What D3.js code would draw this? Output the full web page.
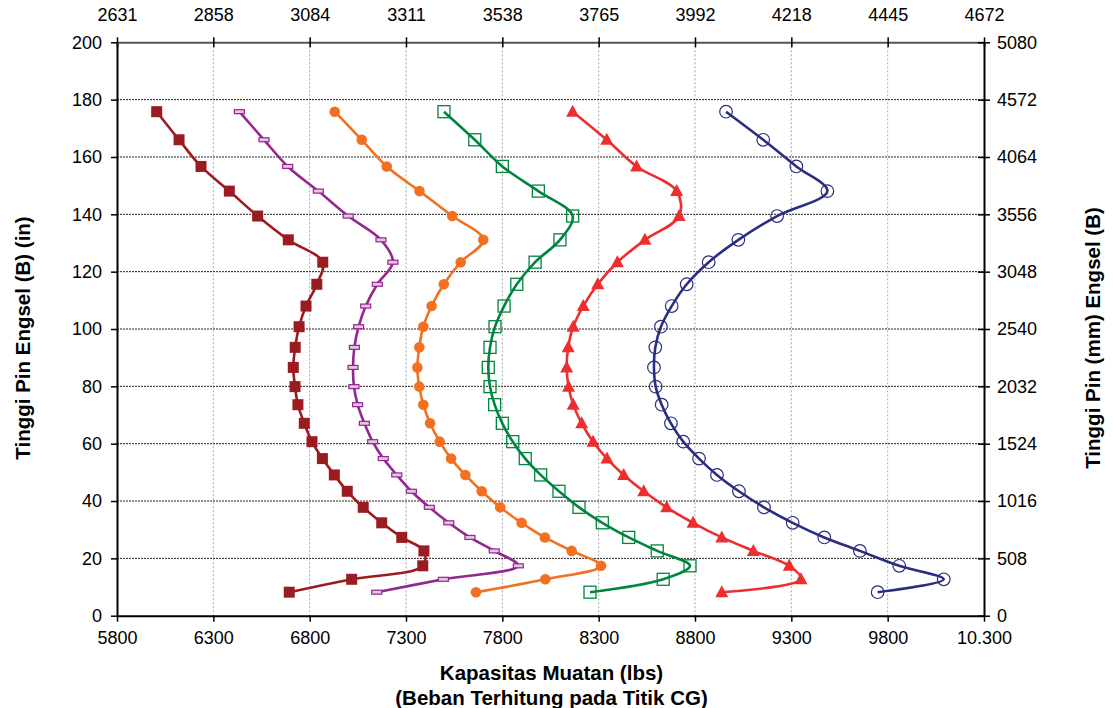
<!DOCTYPE html>
<html>
<head>
<meta charset="utf-8">
<script src="https://cdn.jsdelivr.net/npm/d3@7/dist/d3.min.js"></script>
<style>
  html, body { margin: 0; padding: 0; background: #fff; }
  svg { display: block; }
  text { font-family: "Liberation Sans", Arial, sans-serif; fill: #000; }
</style>
</head>
<body>
<svg id="chart" width="1113" height="708"></svg>
<script>
// Pin heights (in) shared by every curve
const heightsIn = [8.2, 12.7, 17.4, 22.6, 27.3, 32.4, 37.8, 43.4, 49.1, 54.8, 60.7, 67.1, 73.6, 79.9, 86.6, 93.6, 100.8, 108.0, 115.6, 123.3, 131.1, 139.4, 148.1, 156.7, 166.0, 175.8];

// Load capacity (lbs) at each pin height, one array per curve
const capDarkRed = [6694, 7018, 7387, 7393, 7278, 7174, 7078, 6995, 6928, 6866, 6812, 6772, 6739, 6724, 6715, 6725, 6745, 6781, 6837, 6868, 6689, 6530, 6383, 6236, 6122, 6006];
const capPurple  = [7148, 7494, 7883, 7758, 7632, 7522, 7421, 7328, 7252, 7182, 7127, 7084, 7049, 7030, 7025, 7032, 7054, 7091, 7151, 7232, 7170, 7000, 6845, 6686, 6563, 6435];
const capOrange  = [7663, 8023, 8312, 8160, 8021, 7900, 7789, 7693, 7608, 7534, 7475, 7425, 7390, 7369, 7359, 7369, 7390, 7433, 7496, 7584, 7701, 7540, 7370, 7200, 7070, 6930];
const capGreen   = [8255, 8635, 8774, 8604, 8456, 8319, 8198, 8094, 7999, 7919, 7854, 7800, 7760, 7736, 7727, 7736, 7762, 7809, 7875, 7970, 8099, 8165, 7987, 7800, 7657, 7497];
const capRed     = [8939, 9350, 9289, 9103, 8939, 8790, 8653, 8534, 8430, 8343, 8271, 8212, 8168, 8144, 8134, 8142, 8168, 8220, 8295, 8397, 8540, 8718, 8705, 8497, 8342, 8165];
const capNavy    = [9748, 10091, 9860, 9656, 9471, 9307, 9158, 9028, 8914, 8821, 8739, 8675, 8627, 8596, 8587, 8594, 8623, 8679, 8757, 8871, 9025, 9226, 9487, 9326, 9154, 8961];

// Axis ticks and labels
const lbsTicks   = [5800, 6300, 6800, 7300, 7800, 8300, 8800, 9300, 9800, 10300];
const lbsLabels  = ["5800", "6300", "6800", "7300", "7800", "8300", "8800", "9300", "9800", "10.300"];
const kgLabels   = ["2631", "2858", "3084", "3311", "3538", "3765", "3992", "4218", "4445", "4672"];
const inTicks    = [0, 20, 40, 60, 80, 100, 120, 140, 160, 180, 200];
const mmLabels   = ["0", "508", "1016", "1524", "2032", "2540", "3048", "3556", "4064", "4572", "5080"];

const svg = d3.select("#chart");
const L = 117, R = 984, T = 42.3, B = 615.7;

const x = d3.scaleLinear().domain([5800, 10300]).range([L, R]);
const y = d3.scaleLinear().domain([0, 200]).range([B, T]);

// Grid
const grid = svg.append("g");
grid.selectAll("line.v").data(lbsTicks.slice(1, -1)).join("line")
  .attr("x1", d => x(d)).attr("x2", d => x(d))
  .attr("y1", T).attr("y2", B)
  .attr("stroke", "#a8a8a8").attr("stroke-width", 1).attr("stroke-dasharray", "2,2");
grid.selectAll("line.h").data(inTicks.slice(1, -1)).join("line")
  .attr("x1", L).attr("x2", R)
  .attr("y1", d => y(d)).attr("y2", d => y(d))
  .attr("stroke", "#222").attr("stroke-width", 1).attr("stroke-dasharray", "2,1");

// Axes
const axisFont = g => g.selectAll("text")
  .style("font-family", '"Liberation Sans", Arial, sans-serif')
  .style("font-size", "18px").attr("fill", "#000");

const axBottom = svg.append("g").attr("transform", `translate(0,${B})`)
  .call(d3.axisBottom(x).tickValues(lbsTicks).tickFormat((d, i) => lbsLabels[i])
    .tickSizeInner(6).tickSizeOuter(0).tickPadding(10));
axBottom.call(axisFont);

const axTop = svg.append("g").attr("transform", `translate(0,${T})`)
  .call(d3.axisTop(x).tickValues(lbsTicks).tickFormat((d, i) => kgLabels[i])
    .tickSizeInner(5).tickSizeOuter(0).tickPadding(16));
axTop.call(axisFont);
axTop.selectAll(".tick line").attr("y2", 5).attr("y1", -5);

const axLeft = svg.append("g").attr("transform", `translate(${L},0)`)
  .call(d3.axisLeft(y).tickValues(inTicks).tickSizeInner(6).tickSizeOuter(0).tickPadding(9));
axLeft.call(axisFont);

const axRight = svg.append("g").attr("transform", `translate(${R},0)`)
  .call(d3.axisRight(y).tickValues(inTicks).tickFormat((d, i) => mmLabels[i])
    .tickSizeInner(6).tickSizeOuter(0).tickPadding(7));
axRight.call(axisFont);
axRight.selectAll(".tick line").attr("x1", -6);

[axBottom, axTop, axLeft, axRight].forEach(g => {
  g.select(".domain").attr("stroke", "#000").attr("stroke-width", 2);
  g.selectAll(".tick line").attr("stroke", "#000").attr("stroke-width", 1.5);
});
axTop.select(".domain").attr("stroke", "#555").attr("stroke-width", 2);

// Titles
const titleStyle = t => t.attr("text-anchor", "middle")
  .style("font-weight", "bold").style("font-size", "20.5px");
svg.append("text").attr("x", (L + R) / 2 + 1).attr("y", 680).call(titleStyle)
  .text("Kapasitas Muatan (lbs)");
svg.append("text").attr("x", (L + R) / 2 + 1).attr("y", 704.5).call(titleStyle)
  .text("(Beban Terhitung pada Titik CG)");
svg.append("text").attr("transform", "translate(30,338) rotate(-90)").call(titleStyle)
  .text("Tinggi Pin Engsel (B) (in)");
svg.append("text").attr("transform", "translate(1100,338) rotate(-90)").call(titleStyle)
  .text("Tinggi Pin (mm) Engsel (B)");

// Curves
const series = [
  { values: capDarkRed, color: "#9b1c20", marker: "squareFilled" },
  { values: capPurple,  color: "#93278f", marker: "dash" },
  { values: capOrange,  color: "#f37021", marker: "circleFilled" },
  { values: capGreen,   color: "#00853f", marker: "squareOpen" },
  { values: capRed,     color: "#ee2e2e", marker: "triangle" },
  { values: capNavy,    color: "#2b2e7f", marker: "circleOpen" }
];

const line = d3.line()
  .x(d => x(d.cap)).y(d => y(d.h))
  .curve(d3.curveCatmullRom.alpha(0.5));

series.forEach(s => {
  const pts = heightsIn.map((h, i) => ({ h, cap: s.values[i] }));
  const g = svg.append("g");
  g.append("path").datum(pts).attr("d", line)
    .attr("fill", "none").attr("stroke", s.color).attr("stroke-width", 2.6)
    .attr("stroke-linejoin", "round");

  const m = g.selectAll("g.m").data(pts).join("g")
    .attr("transform", d => `translate(${x(d.cap)},${y(d.h)})`);
  if (s.marker === "squareFilled") {
    m.append("rect").attr("x", -5.5).attr("y", -5.5).attr("width", 11).attr("height", 11)
      .attr("fill", s.color);
  } else if (s.marker === "dash") {
    m.append("rect").attr("x", -5).attr("y", -2).attr("width", 10).attr("height", 4)
      .attr("fill", "#e6c3e4").attr("stroke", s.color).attr("stroke-width", 1.2);
  } else if (s.marker === "circleFilled") {
    m.append("circle").attr("r", 5.3).attr("fill", s.color);
  } else if (s.marker === "squareOpen") {
    m.append("rect").attr("x", -6).attr("y", -6).attr("width", 12).attr("height", 12)
      .attr("fill", "none").attr("stroke", s.color).attr("stroke-width", 1.3);
  } else if (s.marker === "triangle") {
    m.append("path").attr("d", "M0,-7 L6.5,5 L-6.5,5 Z").attr("fill", s.color);
  } else if (s.marker === "circleOpen") {
    m.append("circle").attr("r", 6.3).attr("fill", "none")
      .attr("stroke", s.color).attr("stroke-width", 1.2);
  }
});
</script>
</body>
</html>
